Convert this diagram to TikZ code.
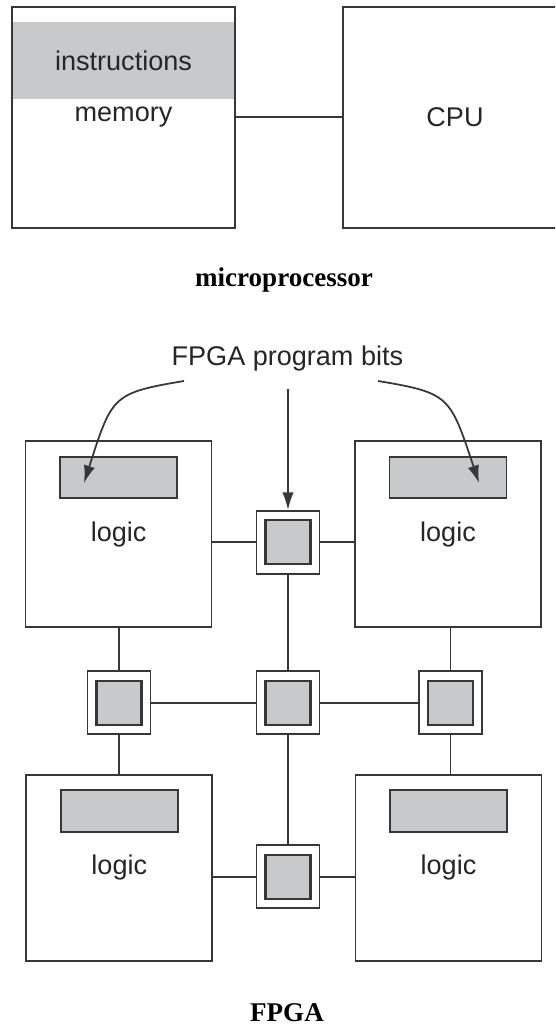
\documentclass[tikz,border=0pt]{standalone}
\usepackage{fontspec}
\setmainfont{Liberation Serif}
\setsansfont{Liberation Sans}
\usetikzlibrary{arrows.meta,positioning}
\definecolor{linecol}{RGB}{55,55,55}
\definecolor{bitcol}{RGB}{200,201,203}

\begin{document}
\begin{tikzpicture}[x=0.02cm,y=-0.02cm,>={Latex[length=10pt,width=6.5pt]},
  line width=1pt,draw=linecol,
  every node/.style={font=\sffamily\fontsize{15.4}{18}\selectfont,text=black!85},
  unitbox/.style={draw=linecol,minimum width=4.47cm,minimum height=4.42cm,inner sep=0pt},
  band/.style={fill=bitcol,minimum width=4.43cm,minimum height=1.54cm,inner sep=0pt},
  logicbox/.style={draw=linecol,minimum width=3.72cm,minimum height=3.72cm,inner sep=0pt},
  bitsbox/.style={draw=linecol,fill=bitcol,minimum width=2.34cm,minimum height=0.83cm,inner sep=0pt},
  swout/.style={draw=linecol,fill=white,minimum size=1.26cm,inner sep=0pt},
  swin/.style={draw=linecol,line width=1.3pt,fill=bitcol,minimum width=0.9cm,minimum height=0.88cm,inner sep=0pt},
  title/.style={font=\rmfamily\bfseries\fontsize{15.4}{18}\selectfont,text=black}]
\clip (0,0) rectangle (555,1026);
% ---- top: microprocessor ----
\node[unitbox] (mem) at (123.5,117.2) {memory};
\node[band,below=0.31cm of mem.north] (instr) {instructions};
\node[unitbox] (cpu) at (455,117.2) {CPU};
\draw (mem) -- (cpu);
\node[title] (micro) at (284,280) {microprocessor};
% ---- bottom: FPGA ----
\foreach \n/\px/\py in {TL/118.6/534.2,TR/448/534.2,BL/119.3/867.7,BR/448.5/867.7}{
  \node[logicbox] (\n) at (\px,\py) {logic};
  \node[bitsbox,below=0.31cm of \n.north] (\n-bits) {};
}
\foreach \n/\px/\py in {swT/288/542.3,swL/119.1/702.7,swC/288/702.7,swR/450.5/702.7,swB/288/876.7}{
  \node[swout] (\n) at (\px,\py) {};
  \node[swin] (\n-in) at (\n) {};
}
% wires
\draw (swT.west) -- (swT.west -| TL.east);
\draw (swT.east) -- (swT.east -| TR.west);
\draw (swT.south) -- (swC.north);
\draw (swL.north) -- (swL.north |- TL.south);
\draw (swL.south) -- (swL.south |- BL.north);
\draw (swR.north) -- (swR.north |- TR.south);
\draw (swR.south) -- (swR.south |- BR.north);
\draw (swL.east) -- (swC.west);
\draw (swC.east) -- (swR.west);
\draw (swC.south) -- (swB.north);
\draw (swB.west) -- (swB.west -| BL.east);
\draw (swB.east) -- (swB.east -| BR.west);
% program bits arrows
\node (bits) at (287.4,359) {FPGA program bits};
\coordinate (bitsdown) at (288,389);
\coordinate (L0) at (184,381); \coordinate (L1) at (84,483);
\coordinate (R0) at (378,381); \coordinate (R1) at (479,483);
\draw[->] (bitsdown) -- (swT.north);
\draw[->] (L0) .. controls (112,393) and (112,396) .. (L1);
\draw[->] (R0) .. controls (450,393) and (450,396) .. (R1);
\node[title] (fpga) at (287,1013) {FPGA};
\end{tikzpicture}
\end{document}
